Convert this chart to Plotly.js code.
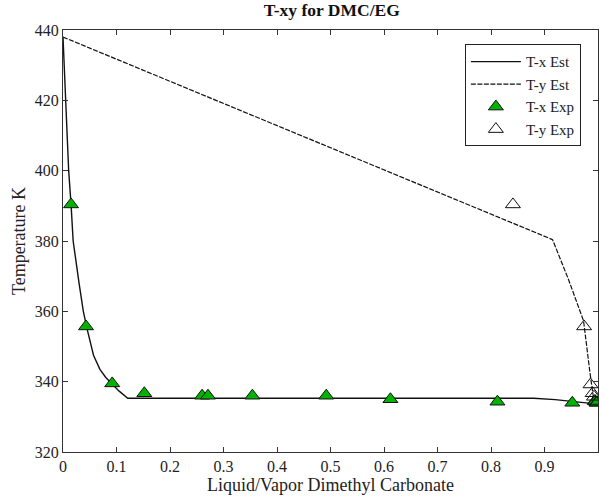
<!DOCTYPE html>
<html>
<head>
<meta charset="utf-8">
<script src="https://cdn.plot.ly/plotly-3.0.1.min.js"></script>
<style>html,body{margin:0;padding:0;background:#fff;}#chart{width:601px;height:502px;}</style>
</head>
<body>
<div id="chart"></div>
<script>
// T-x estimated curve
const txEstX = [0, 0.0056, 0.0106, 0.015, 0.019, 0.03, 0.038, 0.045, 0.057, 0.069, 0.08, 0.092, 0.105, 0.121, 0.3, 0.5, 0.7, 0.88, 0.92, 0.96, 1.0];
const txEstT = [438, 420, 400, 390.5, 380, 368, 360, 355, 347.5, 343.5, 341.2, 339.3, 337.3, 335.3, 335.3, 335.3, 335.3, 335.3, 334.9, 334.2, 333.6];
// T-y estimated curve
const tyEstX = [0, 0.915, 0.945, 0.973, 0.985, 0.991, 0.995, 1.0];
const tyEstT = [438, 380.4, 369, 357.3, 342.5, 336, 334.3, 333.6];
// T-x experimental
const txExpX = [0.015, 0.043, 0.092, 0.152, 0.26, 0.271, 0.354, 0.492, 0.612, 0.812, 0.952, 0.995, 0.998];
const txExpT = [390.4, 355.7, 339.5, 336.7, 336.0, 336.0, 336.0, 336.0, 335.0, 334.3, 334.0, 334.4, 334.0];
// T-y experimental
const tyExpX = [0.841, 0.974, 0.986, 0.99, 0.9925, 0.994, 0.997];
const tyExpT = [390.4, 355.7, 339.2, 336.7, 335.7, 334.5, 334.0];
// ticks
const xTicks = [0, 0.1, 0.2, 0.3, 0.4, 0.5, 0.6, 0.7, 0.8, 0.9, 1];
const xTickText = ['0', '0.1', '0.2', '0.3', '0.4', '0.5', '0.6', '0.7', '0.8', '0.9', '1'];
const yTicks = [320, 340, 360, 380, 400, 420, 440];

const serif = 'Liberation Serif, Times New Roman, serif';
const traces = [
  {x: txEstX, y: txEstT, mode: 'lines', name: 'T-x Est',
   line: {color: '#111', width: 1.4}},
  {x: tyEstX, y: tyEstT, mode: 'lines', name: 'T-y Est',
   line: {color: '#111', width: 1.2, dash: '5px,1.5px'}},
  {x: txExpX, y: txExpT, mode: 'markers', name: 'T-x Exp',
   marker: {symbol: 'triangle-up', size: 13, color: '#00b300', line: {color: '#111', width: 1}}},
  {x: tyExpX, y: tyExpT, mode: 'markers', name: 'T-y Exp',
   marker: {symbol: 'triangle-up', size: 13, color: 'rgba(255,255,255,0)', line: {color: '#111', width: 1}}}
];
const axisCommon = {
  showline: true, linecolor: '#333', linewidth: 1, mirror: 'ticks',
  ticks: 'inside', ticklen: 5, tickcolor: '#333', showgrid: false, zeroline: false,
  tickfont: {family: serif, size: 16, color: '#222'}
};
const layout = {
  width: 601, height: 502,
  margin: {l: 63, r: 3, t: 30, b: 50},
  paper_bgcolor: '#fff', plot_bgcolor: '#fff',
  title: {text: '<b>T-xy for DMC/EG</b>', font: {family: serif, size: 17.5, color: '#111'},
          x: 0.552, xanchor: 'center', y: 0.992, yanchor: 'top'},
  xaxis: Object.assign({}, axisCommon, {
    range: [0, 1], tickvals: xTicks, ticktext: xTickText,
    title: {text: 'Liquid/Vapor Dimethyl Carbonate', font: {family: serif, size: 18, color: '#222'}, standoff: 2}
  }),
  yaxis: Object.assign({}, axisCommon, {
    range: [320, 440], tickvals: yTicks,
    title: {text: 'Temperature K', font: {family: serif, size: 18, color: '#222'}, standoff: 4}
  }),
  showlegend: true,
  legend: {x: 0.968, xanchor: 'right', y: 0.966, yanchor: 'top',
           bgcolor: '#fff', bordercolor: '#222', borderwidth: 1,
           font: {family: serif, size: 15, color: '#222'}, tracegroupgap: 0, itemwidth: 50}
};
Plotly.newPlot('chart', traces, layout, {displayModeBar: false, staticPlot: true});
</script>
</body>
</html>
